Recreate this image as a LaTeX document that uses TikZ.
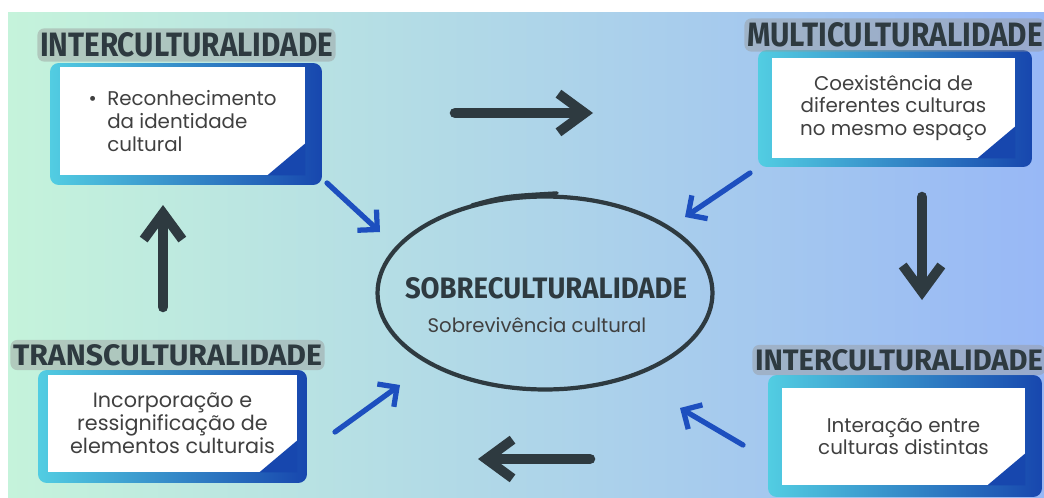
\documentclass[tikz,border=0pt]{standalone}
\usepackage{graphicx}
\usepackage{fontspec}
\setmainfont{Poppins}
\newfontfamily\titlefont{Fira Sans}
\usetikzlibrary{arrows.meta,shapes.geometric}

\definecolor{ink}{HTML}{2E3A40}
\definecolor{bgl}{HTML}{C5F3DB}
\definecolor{bgm}{HTML}{B2DCE9}
\definecolor{bgr}{HTML}{98B8F6}
\definecolor{cyanf}{HTML}{52CDE2}
\definecolor{bluef}{HTML}{1747AE}
\definecolor{bluea}{HTML}{1D4FBF}
\definecolor{txt}{HTML}{404040}

\newcommand{\ttl}[3]{\resizebox{#1}{#2}{\titlefont\bfseries #3}}

\begin{document}
\begin{tikzpicture}[
    x=0.02cm, y=-0.02cm,
    frame/.style = {
      rectangle,
      rounded corners = 5pt,
      left color = cyanf,
      right color = bluef,
      inner sep = 0pt
    },
    card/.style = {
      rectangle,
      fill = white,
      inner sep = 0pt,
      text = txt,
      font = \fontsize{11.3pt}{13pt}\selectfont,
      align = center
    },
    ttlbox/.style = {
      fill = gray!80,
      fill opacity = 0.45,
      text opacity = 1,
      text = ink,
      rounded corners = 4pt,
      inner xsep = 1.5pt,
      inner ysep = 2.5pt
    },
    darrow/.style = {
      ink,
      line width = 6pt,
      line cap = round,
      -{Straight Barb[length=15pt,width=22pt,line width=5.5pt]}
    },
    barrow/.style = {
      bluea,
      line width = 3pt,
      line cap = round,
      -{Straight Barb[length=8pt,width=16pt,line width=3pt]}
    }
  ]
  \useasboundingbox (0,0) rectangle (1044,497);
  \shade[left color=bgl, middle color=bgm, right color=bgr] (8,12) rectangle (1044,497);

  % top left
  \node[frame, minimum width=5.44cm, minimum height=2.44cm] (f1) at (186,124) {};
  \node[card, minimum width=4.9cm, minimum height=2.16cm, align=left] (c1) at (182.5,121)
    {\textbullet~~Reconhecimento\\\phantom{\textbullet~~}da identidade\\\phantom{\textbullet~~}cultural};
  \fill[bluef] (c1.south east) -- ++(-38,0) -- ++(38,-32) -- cycle;
  \node[ttlbox] (t1) at (186.5,45) {\ttl{5.86cm}{0.48cm}{INTERCULTURALIDADE}};

  % top right
  \node[frame, minimum width=5.48cm, minimum height=2.34cm] (f2) at (895,108.5) {};
  \node[card, minimum width=4.86cm, minimum height=2.0cm] (c2) at (893.5,108)
    {Coexistência de\\diferentes culturas\\no mesmo espaço};
  \fill[bluef] (c2.south east) -- ++(-38,0) -- ++(38,-32) -- cycle;
  \node[ttlbox] (t2) at (895,35) {\ttl{5.92cm}{0.48cm}{MULTICULTURALIDADE}};

  % bottom left
  \node[frame, minimum width=5.38cm, minimum height=2.26cm] (f3) at (172.5,426.5) {};
  \node[card, minimum width=4.98cm, minimum height=1.94cm, font=\fontsize{11.8pt}{13pt}\selectfont] (c3) at (172.5,423.5)
    {Incorporação e\\ressignificação de\\elementos culturais};
  \fill[bluef] (c3.south east) -- ++(-38,0) -- ++(38,-32) -- cycle;
  \node[ttlbox] (t3) at (167.5,355) {\ttl{6.18cm}{0.42cm}{TRANSCULTURALIDADE}};

  % bottom right
  \node[frame, minimum width=5.48cm, minimum height=2.44cm] (f4) at (905,436) {};
  \node[card, minimum width=4.86cm, minimum height=1.94cm] (c4) at (903.5,436.5)
    {Interação entre\\culturas distintas};
  \fill[bluef] (c4.south east) -- ++(-38,0) -- ++(38,-32) -- cycle;
  \node[ttlbox] (t4) at (899,360) {\ttl{5.76cm}{0.42cm}{INTERCULTURALIDADE}};

  % centre
  \node[ellipse, draw=ink, line width=2.4pt, minimum width=6.7cm, minimum height=3.86cm] (sobre) at (545,293) {};
  \draw[ink, line width=2pt, line cap=round] (472,205) .. controls (505,196) .. (557,193);
  \node[text=ink] (sobt) at (546,288) {\ttl{5.64cm}{0.42cm}{SOBRECULTURALIDADE}};
  \node[text=txt, font=\fontsize{11.2pt}{13pt}\selectfont] (sobs) at (537,325) {Sobrevivência cultural};

  % cycle arrows
  \coordinate (d1s) at (455,113);
  \coordinate (d1e) at (593,113);
  \coordinate (d2s) at (922,197);
  \coordinate (d2e) at (922,300);
  \coordinate (d3s) at (590,459);
  \coordinate (d3e) at (478,459);
  \coordinate (d4s) at (163,307);
  \coordinate (d4e) at (163,205);
  \draw[darrow] (d1s) -- (d1e);
  \draw[darrow] (d2s) -- (d2e);
  \draw[darrow] (d3s) -- (d3e);
  \draw[darrow] (d4s) -- (d4e);

  % arrows to centre
  \coordinate (b1s) at (327,183);
  \coordinate (b1e) at (380,232);
  \coordinate (b2s) at (750,173);
  \coordinate (b2e) at (685,217);
  \coordinate (b3s) at (335,432);
  \coordinate (b3e) at (400,385);
  \coordinate (b4s) at (743,445);
  \coordinate (b4e) at (680,408);
  \draw[barrow] (b1s) -- (b1e);
  \draw[barrow] (b2s) -- (b2e);
  \draw[barrow] (b3s) -- (b3e);
  \draw[barrow] (b4s) -- (b4e);

\end{tikzpicture}
\end{document}
